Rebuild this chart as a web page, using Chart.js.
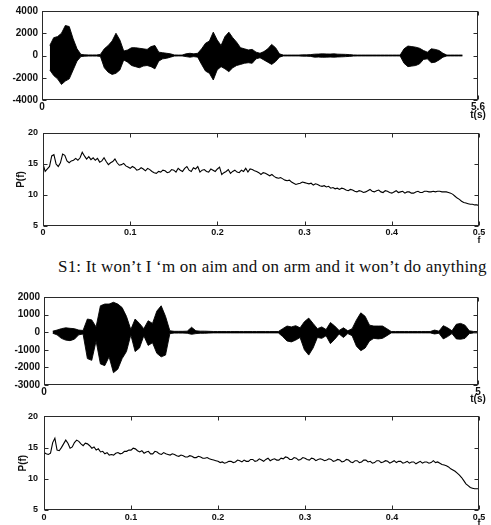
<!DOCTYPE html>
<html><head><meta charset="utf-8">
<script src="https://cdn.jsdelivr.net/npm/chart.js@4.4.1/dist/chart.umd.min.js"></script>
<style>
html,body{margin:0;padding:0;background:#fff;}
#wrap{position:relative;width:491px;height:525px;overflow:hidden;background:#fff;}
#wrap canvas{position:absolute;left:0;}
#cap{position:absolute;left:58px;top:257px;line-height:19px;font-family:"Liberation Serif","Times New Roman",serif;font-size:17px;letter-spacing:0.2px;color:#111;white-space:nowrap;}
</style></head>
<body>
<div id="wrap">
<canvas id="c1" width="491" height="122" style="top:0px"></canvas>
<canvas id="c2" width="491" height="128" style="top:122px"></canvas>
<div id="cap">S1: It won’t I ‘m on aim and on arm and it won’t do anything</div>
<canvas id="c3" width="491" height="125" style="top:280px"></canvas>
<canvas id="c4" width="491" height="120" style="top:405px"></canvas>
</div>
<script>
// ---------- data ----------
// Waveform 1: amplitude envelope (upper / lower) every 0.05 s starting at 0.10 s
const wave1Start = 0.10, wave1Step = 0.05;
const wave1Upper = [
  900,1600,1700,2000,2700,2600,1500,600,
  100,60,50,50,50,100,600,900,1300,2000,
  1400,400,500,700,700,650,600,550,800,900,
  300,250,200,150,50,40,40,150,200,150,
  200,600,1100,1300,2100,1400,900,1700,2100,1600,
  1200,700,600,500,550,300,200,350,600,1000,
  700,150,40,40,40,40,40,60,60,80,
  120,130,150,140,130,150,120,110,100,80,
  50,40,40,40,40,40,40,40,40,40,
  40,40,40,600,850,800,750,650,450,300,
  600,550,450,200,40,40,40,40,40
];
const wave1Lower = [
  -1300,-1800,-2100,-2600,-2300,-2100,-1300,-500,
  -100,-60,-50,-50,-50,-80,-1100,-1500,-1700,-1600,
  -1300,-400,-600,-900,-1000,-1100,-950,-900,-1000,-1200,
  -500,-300,-250,-150,-50,-40,-40,-100,-150,-100,
  -150,-800,-1400,-1600,-2200,-1300,-1000,-1200,-1450,-1100,
  -900,-800,-700,-650,-700,-300,-200,-400,-600,-800,
  -550,-150,-40,-40,-40,-40,-40,-60,-60,-80,
  -150,-140,-160,-150,-140,-150,-130,-120,-100,-80,
  -50,-40,-40,-40,-40,-40,-40,-40,-40,-40,
  -40,-40,-40,-700,-1000,-950,-900,-750,-350,-300,
  -650,-600,-400,-150,-40,-40,-40,-40,-40
];
// Waveform 2: amplitude envelope every 0.05 s starting at 0.10 s
const wave2Start = 0.10, wave2Step = 0.05;
const wave2Upper = [
  60,120,200,250,220,200,120,100,
  750,700,300,1500,1600,1600,1700,1600,1400,900,
  150,750,500,200,650,500,1200,1500,900,80,
  50,50,50,60,280,80,60,60,50,40,
  40,40,40,40,40,40,40,40,40,40,
  40,40,40,40,40,200,350,300,370,250,
  600,800,500,200,300,150,550,350,100,250,
  80,200,700,1100,900,400,350,350,350,200,
  40,40,40,40,40,40,40,40,40,40,
  120,60,370,250,80,450,500,400,80,40,
  40
];
const wave2Lower = [
  -60,-150,-350,-450,-480,-400,-150,-100,
  -1500,-1600,-500,-1800,-1900,-1400,-2300,-2100,-1500,-1100,
  -150,-1100,-900,-200,-750,-600,-1200,-1400,-1300,-80,
  -50,-50,-50,-60,-120,-80,-60,-60,-50,-40,
  -40,-40,-40,-40,-40,-40,-40,-40,-40,-40,
  -40,-40,-40,-40,-40,-250,-500,-550,-450,-300,
  -1000,-1300,-900,-300,-350,-200,-650,-400,-100,-300,
  -80,-200,-800,-1050,-900,-500,-350,-380,-350,-200,
  -40,-40,-40,-40,-40,-40,-40,-40,-40,-40,
  -100,-60,-380,-250,-80,-380,-400,-350,-80,-40,
  -40
];
// Spectra P(f) every 0.0025 from f = 0 to 0.5
const specStep = 0.0025;
const spec1P = [
  15.0,13.8,14.2,14.6,16.3,16.5,15.0,14.6,15.2,16.6,
  16.4,15.5,15.2,15.5,15.6,15.9,15.6,16.0,16.9,16.3,
  15.8,16.2,15.7,16.0,15.6,15.9,15.3,15.5,16.0,15.4,
  14.9,15.2,15.4,15.8,15.2,14.8,14.9,15.1,14.7,14.5,
  14.3,14.6,14.4,14.0,14.1,14.4,14.2,13.9,14.3,14.1,
  13.8,13.6,13.5,13.8,13.7,14.0,13.9,13.6,13.7,14.1,
  14.0,13.7,14.3,14.0,13.8,14.3,14.6,14.0,13.8,14.4,
  14.2,14.6,13.7,14.0,14.1,13.8,13.7,14.2,14.0,13.8,
  14.2,14.5,13.3,13.6,13.8,14.1,13.5,13.8,14.0,13.7,
  13.6,14.0,13.8,14.3,13.7,14.2,14.1,13.9,13.8,13.6,
  13.3,13.6,13.5,13.3,13.1,13.3,13.0,12.8,12.7,12.8,
  12.6,12.4,12.3,12.4,12.1,11.9,11.7,11.8,11.9,12.1,
  12.0,11.9,11.8,11.9,11.6,11.8,11.7,11.5,11.4,11.5,
  11.3,11.4,11.1,11.2,11.0,11.1,10.9,11.1,11.0,10.8,
  10.7,10.9,10.8,10.6,10.5,10.7,10.6,10.4,10.5,10.7,
  10.9,10.6,10.5,10.7,10.8,10.5,10.4,10.7,10.6,10.4,
  10.3,10.5,10.7,10.4,10.5,10.6,10.3,10.5,10.5,10.3,
  10.3,10.5,10.6,10.4,10.4,10.6,10.6,10.5,10.5,10.6,
  10.5,10.6,10.6,10.5,10.5,10.5,10.4,10.3,10.1,9.8,
  9.5,9.3,9.0,8.8,8.7,8.6,8.5,8.5,8.4,8.4,
  8.3
];
const spec2P = [
  14.2,14.0,13.9,14.1,15.8,16.5,14.6,14.5,15.0,15.6,
  16.2,15.7,14.9,15.1,15.8,16.2,16.0,15.6,15.3,15.7,
  15.6,15.3,14.9,15.1,14.6,14.8,14.3,14.4,14.0,14.2,
  13.8,13.9,13.8,14.1,14.2,14.0,14.1,14.4,14.4,14.6,
  14.6,14.9,14.8,14.5,14.3,14.5,14.1,14.3,14.4,14.0,
  14.0,14.4,14.3,14.0,13.9,14.2,14.0,13.9,13.8,14.0,
  13.9,13.7,13.6,13.8,13.7,13.5,13.5,13.7,13.6,13.4,
  13.4,13.6,13.5,13.3,13.3,13.4,13.2,13.1,13.0,12.9,
  12.8,12.6,12.7,12.5,12.6,12.8,12.8,12.6,12.7,13.0,
  12.9,12.7,13.0,12.8,12.8,13.1,13.1,12.8,12.9,13.2,
  13.0,12.8,13.1,13.3,12.9,13.1,13.2,13.0,13.0,13.3,
  13.2,13.5,13.4,13.1,13.1,13.4,13.3,13.0,13.1,13.4,
  13.3,13.1,13.0,13.3,13.2,12.9,13.1,13.2,13.1,12.9,
  13.0,13.2,13.1,12.8,12.9,13.1,13.0,12.7,12.8,13.1,
  13.0,12.7,12.6,12.9,12.9,12.6,12.7,13.0,13.0,12.7,
  12.8,12.5,12.6,12.9,12.9,12.6,12.7,12.9,12.8,12.5,
  12.7,12.9,12.6,12.8,12.8,12.5,12.6,12.8,12.5,12.7,
  12.7,12.4,12.6,12.8,12.5,12.7,12.7,12.5,12.6,12.9,
  12.6,12.7,12.5,12.3,12.2,12.1,11.9,11.6,11.4,11.2,
  10.9,10.6,10.2,9.7,9.2,8.9,8.6,8.5,8.4,8.4,
  8.4
];
// tick labels
const wave1XTicks = [0, 5.6];
const wave1YTicks = [-4000, -2000, 0, 2000, 4000];
const wave2XTicks = [0, 5];
const wave2YTicks = [-3000, -2000, -1000, 0, 1000, 2000];
const specXTicks = [0, 0.1, 0.2, 0.3, 0.4, 0.5];
const specYTicks = [5, 10, 15, 20];

// ---------- building ----------
function envelope(t0, dt, vals) {
  return vals.map((v, i) => ({x: t0 + i * dt, y: v}));
}
function spectrum(df, vals) {
  return vals.map((v, i) => ({x: +(i * df).toFixed(4), y: v}));
}
function waveSets(t0, dt, up, lo) {
  return [
    {data: envelope(t0, dt, up), borderColor: '#000', backgroundColor: '#000', borderWidth: 0.9, pointRadius: 0, tension: 0, fill: '+1'},
    {data: envelope(t0, dt, lo), borderColor: '#000', borderWidth: 0.9, pointRadius: 0, tension: 0, fill: false}
  ];
}
function specSets(df, vals) {
  return [{data: spectrum(df, vals), borderColor: '#000', borderWidth: 1.1, pointRadius: 0, tension: 0, fill: false}];
}

Chart.defaults.font.family = '"Liberation Sans", Arial, sans-serif';
Chart.defaults.color = '#111';

function framePlugin(xlabel, dy, font) {
  return {
    id: 'frame',
    afterDraw(chart) {
      const {ctx, chartArea: a, scales: {x, y}} = chart;
      const L = Math.round(a.left) + 0.5, R = Math.round(a.right) - 0.5;
      const T = Math.round(a.top) + 0.5, B = Math.round(a.bottom) - 0.5;
      ctx.save();
      ctx.strokeStyle = '#2a2a2a';
      ctx.lineWidth = 1;
      ctx.strokeRect(L, T, R - L, B - T);
      ctx.beginPath();
      y.ticks.forEach(t => {
        const p = Math.round(y.getPixelForValue(t.value)) + 0.5;
        ctx.moveTo(L, p); ctx.lineTo(L + 4, p);
        ctx.moveTo(R, p); ctx.lineTo(R - 4, p);
      });
      x.ticks.forEach(t => {
        const p = Math.round(x.getPixelForValue(t.value)) + 0.5;
        ctx.moveTo(p, B); ctx.lineTo(p, B - 4);
        ctx.moveTo(p, T); ctx.lineTo(p, T + 4);
      });
      ctx.stroke();
      ctx.fillStyle = '#111';
      ctx.font = font;
      ctx.textAlign = 'center';
      ctx.textBaseline = 'middle';
      ctx.fillText(xlabel, a.right, a.bottom + dy);
      ctx.restore();
    }
  };
}

function makeChart(id, o) {
  return new Chart(document.getElementById(id), {
    type: 'line',
    data: {datasets: o.datasets},
    options: {
      responsive: false, animation: false, events: [],
      layout: {padding: {left: 0, right: 491 - o.box.right, top: o.box.top - o.top, bottom: 0}},
      plugins: {legend: {display: false}, tooltip: {enabled: false}},
      scales: {
        x: {
          type: 'linear', min: o.xmin, max: o.xmax,
          afterBuildTicks: s => { s.ticks = o.xticks.map(v => ({value: v})); },
          afterFit: s => { s.height = o.top + o.h - o.box.bottom; },
          grid: {display: false, drawTicks: false}, border: {display: false},
          ticks: {autoSkip: false, maxRotation: 0, padding: o.xpad, font: o.tickFont, color: '#111', callback: v => String(v)}
        },
        y: {
          type: 'linear', min: o.ymin, max: o.ymax,
          afterBuildTicks: s => { s.ticks = o.yticks.map(v => ({value: v})); },
          afterFit: s => { s.width = o.box.left; },
          grid: {display: false, drawTicks: false}, border: {display: false},
          ticks: {autoSkip: false, padding: o.ypad, font: o.tickFont, color: '#111', callback: v => String(v)},
          title: o.ytitle ? {display: true, text: o.ytitle, color: '#111', font: {size: 10, weight: 'bold'}, padding: {top: o.ytitlePad, bottom: 0}} : {display: false}
        }
      }
    },
    plugins: [framePlugin(o.xlabel, o.xlabelDy, o.xlabelFont)]
  });
}

makeChart('c1', {
  top: 0, h: 122, box: {left: 42, right: 478, top: 11, bottom: 100},
  datasets: waveSets(wave1Start, wave1Step, wave1Upper, wave1Lower),
  xmin: 0, xmax: 5.6, ymin: -4000, ymax: 4000,
  xticks: wave1XTicks, yticks: wave1YTicks,
  tickFont: {size: 10, weight: 'bold'}, xpad: 1, ypad: 4,
  xlabel: 't(s)', xlabelDy: 15, xlabelFont: 'bold 10px "Liberation Sans", Arial, sans-serif'
});
makeChart('c2', {
  top: 122, h: 128, box: {left: 43, right: 479, top: 133, bottom: 226},
  datasets: specSets(specStep, spec1P),
  xmin: 0, xmax: 0.5, ymin: 5, ymax: 20,
  xticks: specXTicks, yticks: specYTicks,
  tickFont: {size: 9, weight: 'bold'}, xpad: 1, ypad: 5,
  ytitle: 'P(f)', ytitlePad: 15,
  xlabel: 'f', xlabelDy: 15, xlabelFont: 'bold 9px "Liberation Sans", Arial, sans-serif'
});
makeChart('c3', {
  top: 280, h: 125, box: {left: 44, right: 478, top: 297, bottom: 385},
  datasets: waveSets(wave2Start, wave2Step, wave2Upper, wave2Lower),
  xmin: 0, xmax: 5, ymin: -3000, ymax: 2000,
  xticks: wave2XTicks, yticks: wave2YTicks,
  tickFont: {size: 10, weight: 'bold'}, xpad: 1, ypad: 4,
  xlabel: 't(s)', xlabelDy: 14, xlabelFont: 'bold 10px "Liberation Sans", Arial, sans-serif'
});
makeChart('c4', {
  top: 405, h: 120, box: {left: 44, right: 479, top: 416, bottom: 510},
  datasets: specSets(specStep, spec2P),
  xmin: 0, xmax: 0.5, ymin: 5, ymax: 20,
  xticks: specXTicks, yticks: specYTicks,
  tickFont: {size: 9, weight: 'bold'}, xpad: 2, ypad: 6,
  ytitle: 'P(f)', ytitlePad: 17,
  xlabel: 'f', xlabelDy: 14, xlabelFont: 'bold 9px "Liberation Sans", Arial, sans-serif'
});
</script>
</body></html>
